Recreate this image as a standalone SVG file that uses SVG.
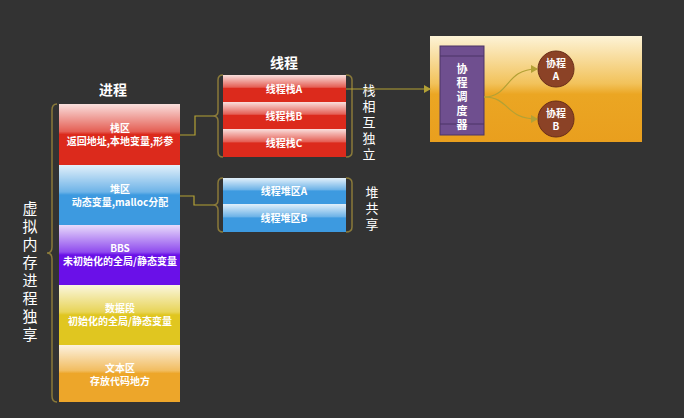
<svg xmlns="http://www.w3.org/2000/svg" width="684" height="418" viewBox="0 0 684 418">
<defs>
<linearGradient id="gl" x1="0" y1="0" x2="0" y2="1"><stop offset="0" stop-color="#fff" stop-opacity="0.85"/><stop offset="0.45" stop-color="#fff" stop-opacity="0.25"/><stop offset="0.5" stop-color="#fff" stop-opacity="0"/><stop offset="1" stop-color="#fff" stop-opacity="0"/></linearGradient>
<linearGradient id="og" x1="0" y1="0" x2="0" y2="1"><stop offset="0" stop-color="#fdf3d6"/><stop offset="0.45" stop-color="#f2c25a"/><stop offset="0.55" stop-color="#eba623"/><stop offset="1" stop-color="#e99f1e"/></linearGradient>
<marker id="ar" markerWidth="8" markerHeight="8" refX="6" refY="4" orient="auto" markerUnits="userSpaceOnUse"><path d="M0,0 L7,4 L0,8 Z" fill="#b3a135"/></marker>
</defs>
<style>
.t{font-family:"Noto Sans CJK SC","Liberation Sans",sans-serif;fill:#fff;font-weight:bold;text-anchor:middle}
.s{font-size:10px}
.v{font-family:"Noto Sans CJK SC",sans-serif;fill:#fff;text-anchor:middle}
.a{font-size:15px}
.b{font-size:13px}
.br{fill:none;stroke:#8a7a3a;stroke-width:1.5}
.ln{fill:none;stroke:#b3a135;stroke-width:1.2}
</style>
<rect width="684" height="418" fill="#333333"/>
<text class="t" x="113" y="95" font-size="14">进程</text>
<text class="t" x="284" y="68" font-size="14">线程</text>
<g id="proc">
<rect x="59" y="104" width="121" height="61" fill="#dc2a1c"/><rect x="59" y="104" width="121" height="61" fill="url(#gl)"/>
<text class="t s" x="120" y="132">栈区</text><text class="t s" x="120" y="145">返回地址,本地变量,形参</text>
<rect x="59" y="165" width="121" height="60" fill="#3d9ae0"/><rect x="59" y="165" width="121" height="60" fill="url(#gl)"/>
<text class="t s" x="120" y="193">堆区</text><text class="t s" x="120" y="206">动态变量,malloc分配</text>
<rect x="59" y="225" width="121" height="60" fill="#6a10e8"/><rect x="59" y="225" width="121" height="60" fill="url(#gl)"/>
<text class="t s" x="120" y="252">BBS</text><text class="t s" x="120" y="265">未初始化的全局/静态变量</text>
<rect x="59" y="285" width="121" height="60" fill="#e0c620"/><rect x="59" y="285" width="121" height="60" fill="url(#gl)"/>
<text class="t s" x="120" y="312">数据段</text><text class="t s" x="120" y="325">初始化的全局/静态变量</text>
<rect x="59" y="345" width="121" height="57" fill="#eda62a"/><rect x="59" y="345" width="121" height="57" fill="url(#gl)"/>
<text class="t s" x="120" y="372">文本区</text><text class="t s" x="120" y="385">存放代码地方</text>
</g>
<g id="threads">
<rect x="223" y="75" width="123" height="27" fill="#dc2a1c"/><rect x="223" y="75" width="123" height="27" fill="url(#gl)"/><text class="t s" x="284" y="93">线程栈A</text>
<rect x="223" y="102" width="123" height="27" fill="#dc2a1c"/><rect x="223" y="102" width="123" height="27" fill="url(#gl)"/><text class="t s" x="284" y="120">线程栈B</text>
<rect x="223" y="129" width="123" height="28" fill="#dc2a1c"/><rect x="223" y="129" width="123" height="28" fill="url(#gl)"/><text class="t s" x="284" y="147">线程栈C</text>
<rect x="223" y="178" width="123" height="26" fill="#3d9ae0"/><rect x="223" y="178" width="123" height="26" fill="url(#gl)"/><text class="t s" x="284" y="195">线程堆区A</text>
<rect x="223" y="204" width="123" height="28" fill="#3d9ae0"/><rect x="223" y="204" width="123" height="28" fill="url(#gl)"/><text class="t s" x="284" y="222">线程堆区B</text>
</g>
<g id="labels">
<text class="v a" x="30" y="214">虚</text><text class="v a" x="30" y="232">拟</text><text class="v a" x="30" y="250">内</text><text class="v a" x="30" y="268">存</text><text class="v a" x="30" y="286">进</text><text class="v a" x="30" y="304">程</text><text class="v a" x="30" y="322">独</text><text class="v a" x="30" y="340">享</text>
<text class="v b" x="369" y="95">栈</text><text class="v b" x="369" y="111">相</text><text class="v b" x="369" y="127">互</text><text class="v b" x="369" y="143">独</text><text class="v b" x="369" y="159">立</text>
<text class="v b" x="372" y="197">堆</text><text class="v b" x="372" y="213">共</text><text class="v b" x="372" y="229">享</text>
</g>
<g id="cor">
<rect x="430" y="36" width="212" height="106" fill="url(#og)"/>
<rect x="440" y="46" width="44" height="89" fill="#6f4f8f" stroke="#4c3566"/>
<line x1="440" y1="56" x2="484" y2="56" stroke="#4c3566"/><line x1="440" y1="124" x2="484" y2="124" stroke="#4c3566"/>
<text class="t" font-size="11" x="462" y="73">协</text><text class="t" font-size="11" x="462" y="87">程</text><text class="t" font-size="11" x="462" y="101">调</text><text class="t" font-size="11" x="462" y="115">度</text><text class="t" font-size="11" x="462" y="129">器</text>
<circle cx="556" cy="69" r="18" fill="#8b4226" stroke="#6a2e18"/>
<text class="t s" x="556" y="67">协程</text><text class="t s" x="556" y="80">A</text>
<circle cx="556" cy="119" r="18" fill="#8b4226" stroke="#6a2e18"/>
<text class="t s" x="556" y="117">协程</text><text class="t s" x="556" y="130">B</text>
</g>
<g id="connectors">
<path class="br" d="M57,104 Q52,104 52,110 L52,247 Q52,253 47,253 Q52,253 52,259 L52,396 Q52,402 57,402"/>
<path class="br" d="M223,75 Q218,75 218,80 L218,111 Q218,116 213,116 Q218,116 218,121 L218,152 Q218,157 223,157"/>
<path class="br" d="M346,75 Q352,75 352,80 L352,152 Q352,157 346,157"/>
<path class="br" d="M223,178 Q218,178 218,183 L218,200 Q218,205 213,205 Q218,205 218,210 L218,227 Q218,232 223,232"/>
<path class="br" d="M346,178 Q352,178 352,183 L352,227 Q352,232 346,232"/>
<path class="ln" d="M180,135 L195,135 L195,116 L213,116"/>
<path class="ln" d="M180,196 L194,196 L194,205 L213,205"/>
<path class="ln" d="M346,89 L430,89" marker-end="url(#ar)"/>
<path class="ln" d="M484,97 C510,97 505,69 537,69" marker-end="url(#ar)"/>
<path class="ln" d="M484,97 C510,97 505,119 537,119" marker-end="url(#ar)"/>
</g>
</svg>
